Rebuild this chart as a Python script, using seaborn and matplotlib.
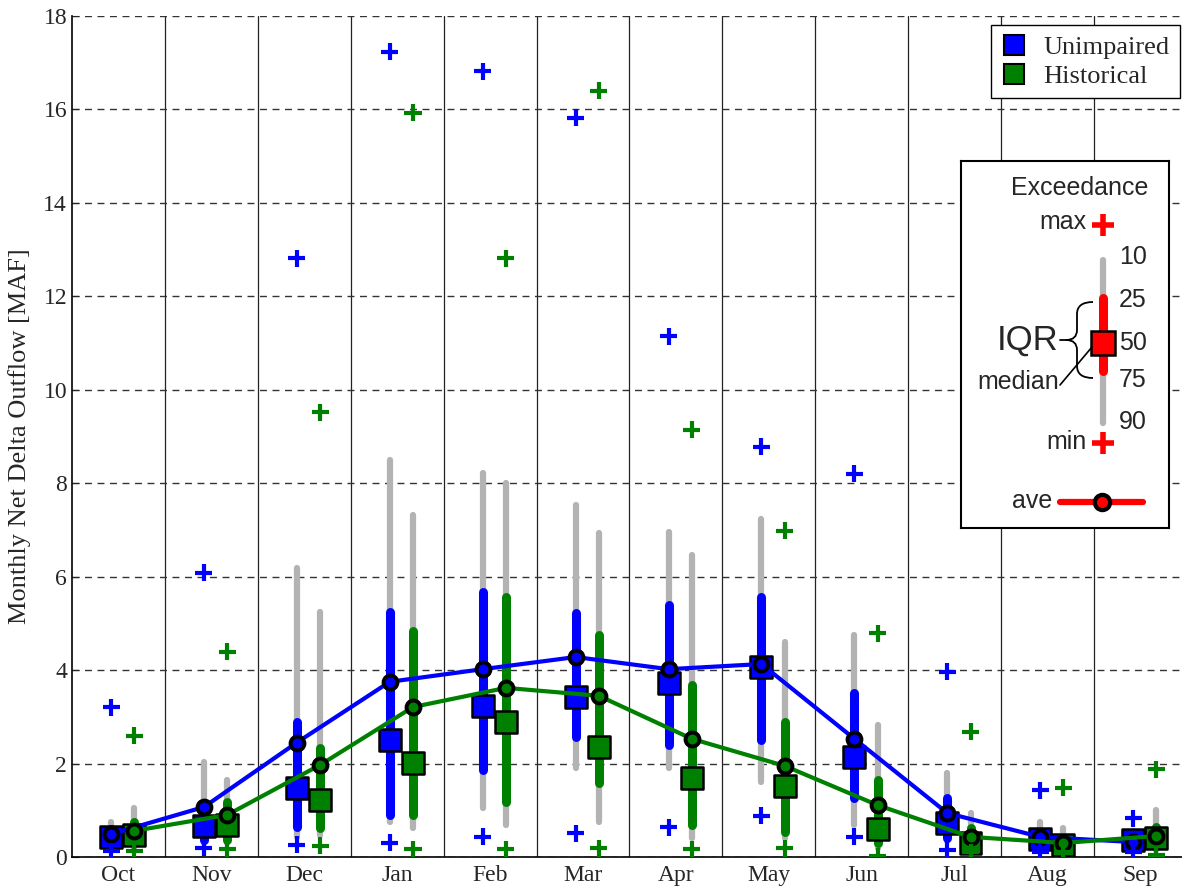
import numpy as np
import pandas as pd
import seaborn as sns
import matplotlib.pyplot as plt
from matplotlib.lines import Line2D
from matplotlib.path import Path
from matplotlib.patches import PathPatch

# month labels (water year)
months = ['Oct', 'Nov', 'Dec', 'Jan', 'Feb', 'Mar', 'Apr', 'May', 'Jun', 'Jul', 'Aug', 'Sep']

# Unimpaired flow statistics [MAF] (exceedance percentiles)
unimp_max = [3.2, 6.08, 12.82, 17.23, 16.82, 15.82, 11.15, 8.78, 8.2, 3.96, 1.43, 0.83]
unimp_p10 = [0.75, 2.03, 6.18, 8.5, 8.22, 7.53, 6.96, 7.23, 4.75, 1.8, 0.75, 0.55]
unimp_p25 = [0.6, 0.86, 2.89, 5.24, 5.67, 5.22, 5.39, 5.57, 3.51, 1.26, 0.5, 0.45]
unimp_p50 = [0.43, 0.66, 1.47, 2.5, 3.23, 3.42, 3.72, 4.07, 2.14, 0.73, 0.39, 0.36]
unimp_p75 = [0.3, 0.36, 0.64, 0.9, 1.86, 2.57, 2.4, 2.5, 1.26, 0.41, 0.3, 0.28]
unimp_p90 = [0.2, 0.3, 0.43, 0.75, 1.05, 1.9, 1.9, 1.6, 0.68, 0.35, 0.22, 0.2]
unimp_min = [0.12, 0.2, 0.26, 0.3, 0.43, 0.51, 0.64, 0.88, 0.43, 0.15, 0.1, 0.1]
unimp_ave = [0.49, 1.07, 2.45, 3.75, 4.02, 4.28, 4.02, 4.13, 2.53, 0.94, 0.43, 0.32]

# Historical flow statistics [MAF]
hist_max = [2.6, 4.39, 9.52, 15.93, 12.82, 16.4, 9.14, 6.98, 4.79, 2.68, 1.48, 1.88]
hist_p10 = [1.05, 1.65, 5.24, 7.32, 8.0, 6.93, 6.46, 4.6, 2.83, 0.94, 0.62, 1.0]
hist_p25 = [0.75, 1.18, 2.33, 4.84, 5.57, 4.75, 3.68, 2.89, 1.65, 0.62, 0.4, 0.64]
hist_p50 = [0.47, 0.68, 1.22, 2.01, 2.89, 2.35, 1.69, 1.52, 0.6, 0.3, 0.26, 0.41]
hist_p75 = [0.3, 0.36, 0.62, 0.9, 1.18, 1.58, 0.68, 0.54, 0.3, 0.2, 0.2, 0.25]
hist_p90 = [0.2, 0.3, 0.47, 0.62, 0.68, 0.75, 0.41, 0.4, 0.2, 0.15, 0.15, 0.15]
hist_min = [0.12, 0.17, 0.24, 0.17, 0.17, 0.19, 0.17, 0.19, 0.02, 0.1, 0.1, 0.05]
hist_ave = [0.56, 0.9, 1.97, 3.21, 3.62, 3.45, 2.53, 1.95, 1.11, 0.43, 0.3, 0.45]

series_names = ['Unimpaired', 'Historical']
palette = {'Unimpaired': '#0000ff', 'Historical': '#008000'}
offsets = {'Unimpaired': -0.08, 'Historical': 0.17}
gray = '#b3b3b3'

# build one long table
pos = np.arange(1, 13)
frames = []
for name, vals in zip(series_names,
                      [(unimp_max, unimp_p10, unimp_p25, unimp_p50, unimp_p75, unimp_p90, unimp_min, unimp_ave),
                       (hist_max, hist_p10, hist_p25, hist_p50, hist_p75, hist_p90, hist_min, hist_ave)]):
    d = pd.DataFrame(dict(zip(['max', 'p10', 'p25', 'p50', 'p75', 'p90', 'min', 'ave'], vals)))
    d['month'] = months
    d['series'] = name
    d['x'] = pos + offsets[name]
    frames.append(d)
df = pd.concat(frames, ignore_index=True)

sns.set_style('white')
plt.rcParams['font.family'] = ['Liberation Serif', 'DejaVu Serif']

fig = plt.figure(figsize=(11.82, 8.9), dpi=100)
ax = fig.add_axes([72 / 1182, 33 / 890, 1115 / 1182, 841 / 890])

# 10-90 range (gray) and interquartile range (colored)
for name in series_names:
    d = df[df['series'] == name]
    ax.vlines(d['x'], d['p90'], d['p10'], colors=gray, lw=4.5, capstyle='round', zorder=2)
    ax.vlines(d['x'], d['p75'], d['p25'], colors=palette[name], lw=6.5, capstyle='round', zorder=3)

# medians
sns.scatterplot(data=df, x='x', y='p50', hue='series', palette=palette, marker='s', s=250,
                edgecolor='black', linewidth=1.8, legend=False, ax=ax, zorder=4)

# averages
sns.lineplot(data=df, x='x', y='ave', hue='series', palette=palette, sort=False, lw=3,
             marker='o', markersize=10, markeredgecolor='black', markeredgewidth=2.8,
             legend=False, ax=ax, zorder=5)

# max / min
for col in ['max', 'min']:
    sns.scatterplot(data=df, x='x', y=col, hue='series', palette=palette, marker='+', s=150,
                    linewidth=3, legend=False, ax=ax, zorder=6)

ax.set_xlim(0.5, 12.5)
ax.set_ylim(0, 18)
ax.set_yticks(range(0, 19, 2))
ax.set_xticks(pos)
ax.set_xticklabels(months)
ax.set_xticks(np.arange(1.5, 12.5, 1), minor=True)
ax.set_xlabel('')
ax.set_ylabel('Monthly Net Delta Outflow [MAF]', fontsize=19, labelpad=9)
ax.tick_params(axis='x', which='major', direction='in', length=5, labelsize=17, pad=6)
ax.tick_params(axis='x', which='minor', length=0)
ax.tick_params(axis='y', direction='in', length=5, labelsize=17, left=True)
ax.yaxis.grid(True, ls=(0, (5, 4)), color='#333333', lw=1)
ax.xaxis.grid(True, which='minor', ls='-', color='#222222', lw=0.9)
ax.set_axisbelow(True)
for s in ['top', 'right']:
    ax.spines[s].set_visible(False)
for s in ['left', 'bottom']:
    ax.spines[s].set_color('black')
    ax.spines[s].set_linewidth(1.2)

handles = [Line2D([], [], ls='', marker='s', markersize=15, markerfacecolor=palette[n],
                  markeredgecolor='black', markeredgewidth=1.5, label=n) for n in series_names]
leg = ax.legend(handles=handles, loc='upper right', bbox_to_anchor=(1180 / 1182, 865 / 890),
                bbox_transform=fig.transFigure, fontsize=19, frameon=True, fancybox=False,
                edgecolor='black', framealpha=1, borderaxespad=0, handletextpad=0.6,
                labelspacing=0.2, handlelength=1.0, borderpad=0.4)
leg.get_frame().set_linewidth(1)

# exceedance key (drawn in pixel-like coords)
kax = fig.add_axes([961 / 1182, (890 - 528) / 890, 208 / 1182, 367 / 890])
kax.set_xlim(961, 1169)
kax.set_ylim(528, 161)
kax.set_xticks([])
kax.set_yticks([])
kax.set_facecolor('white')
for s in kax.spines.values():
    s.set_color('black')
    s.set_linewidth(1.5)
sans = ['Liberation Sans', 'DejaVu Sans']
fs = 18
kax.text(1148, 188, 'Exceedance', ha='right', va='center', fontsize=fs, family=sans)
kax.text(1086, 222, 'max', ha='right', va='center', fontsize=fs, family=sans)
kax.plot(1103, 225, '+', color='red', ms=16, mew=4)
kax.plot([1103, 1103], [260, 423], color=gray, lw=4.5, solid_capstyle='round')
kax.plot([1103, 1103], [298, 371], color='red', lw=6.5, solid_capstyle='round')
kax.plot(1103, 343, 's', mfc='red', mec='black', ms=17, mew=1.8)
for lab, yy in zip(['10', '25', '50', '75', '90'], [257, 300, 343, 380, 422]):
    kax.text(1119, yy, lab, ha='left', va='center', fontsize=fs, family=sans)
kax.text(1028, 340, 'IQR', ha='center', va='center', fontsize=25, family=sans)
brace = Path([(1093, 302), (1077, 302), (1077, 314), (1077, 330), (1077, 340), (1066, 340),
              (1077, 340), (1077, 350), (1077, 366), (1077, 378), (1093, 378)],
             [Path.MOVETO, Path.CURVE3, Path.CURVE3, Path.LINETO, Path.CURVE3, Path.CURVE3,
              Path.CURVE3, Path.CURVE3, Path.LINETO, Path.CURVE3, Path.CURVE3])
kax.add_patch(PathPatch(brace, fill=False, color='black', lw=1.3))
kax.plot([1060, 1066], [340, 340], color='black', lw=1.3)
kax.text(1018, 382, 'median', ha='center', va='center', fontsize=fs, family=sans)
kax.plot([1060, 1092], [385, 347], color='black', lw=1.2)
kax.text(1087, 442, 'min', ha='right', va='center', fontsize=fs, family=sans)
kax.plot(1103, 443, '+', color='red', ms=16, mew=4)
kax.text(1052, 501, 'ave', ha='right', va='center', fontsize=fs, family=sans)
kax.plot([1060, 1143], [502, 502], color='red', lw=4.5, solid_capstyle='round')
kax.plot(1102, 502, 'o', mfc='red', mec='black', ms=11, mew=3)

plt.savefig('out.png', dpi=100)
